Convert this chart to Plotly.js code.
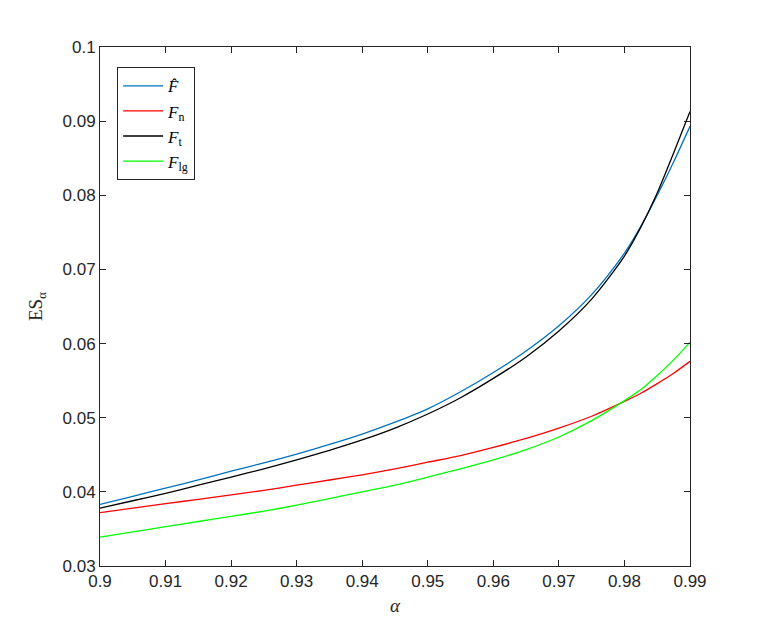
<!DOCTYPE html>
<html>
<head>
<meta charset="utf-8">
<script src="https://cdn.plot.ly/plotly-3.0.1.min.js"></script>
<style>
  body { margin: 0; background: #fff; }
  #plot { width: 763px; height: 635px; }
</style>
</head>
<body>
<div id="plot"></div>
<script>
// alpha grid and ES values
let alpha = [0.900, 0.905, 0.910, 0.915, 0.920, 0.925, 0.930, 0.935, 0.940, 0.945,
             0.950, 0.955, 0.960, 0.965, 0.970, 0.975, 0.980, 0.9825, 0.985, 0.9875, 0.990];
let esHat = [0.0383, 0.0394, 0.0405, 0.0416, 0.0428, 0.0439, 0.0451, 0.0464, 0.0478, 0.0494,
             0.0512, 0.0535, 0.0561, 0.0590, 0.0624, 0.0666, 0.0722, 0.0758, 0.0800, 0.0845, 0.0893];
let esT = [0.0378, 0.0388, 0.0398, 0.0409, 0.0420, 0.0431, 0.0443, 0.0456, 0.0470, 0.0486,
           0.0505, 0.0527, 0.0553, 0.0582, 0.0617, 0.0660, 0.0718, 0.0757, 0.0803, 0.0857, 0.0913];
let esN = [0.0372, 0.0378, 0.0384, 0.0390, 0.0396, 0.0402, 0.0409, 0.0416, 0.0423, 0.0431,
           0.0440, 0.0449, 0.0460, 0.0472, 0.0486, 0.0502, 0.0522, 0.0533, 0.0546, 0.0560, 0.0576];
let esLg = [0.0339, 0.0346, 0.0353, 0.0360, 0.0367, 0.0374, 0.0382, 0.0391, 0.0400, 0.0409,
            0.0420, 0.0431, 0.0443, 0.0457, 0.0474, 0.0496, 0.0523, 0.0538, 0.0557, 0.0578, 0.0602];

let xTicks = [0.9, 0.91, 0.92, 0.93, 0.94, 0.95, 0.96, 0.97, 0.98, 0.99];
let yTicks = [0.03, 0.04, 0.05, 0.06, 0.07, 0.08, 0.09, 0.1];

function trace(y, name, color) {
    return {
        x: alpha, y: y, name: name,
        type: 'scatter', mode: 'lines',
        line: {color: color, width: 1.3, shape: 'spline', smoothing: 0.8}
    };
}

let data = [
    trace(esHat, '<i>F̂</i>', '#0072BD'),
    trace(esN, '<i>F</i><sub>n</sub>', '#FF0000'),
    trace(esT, '<i>F</i><sub>t</sub>', '#000000'),
    trace(esLg, '<i>F</i><sub>lg</sub>', '#00FF00')
];

let axisCommon = {
    showgrid: false,
    zeroline: false,
    showline: true,
    linecolor: '#262626',
    linewidth: 1,
    mirror: 'ticks',
    ticks: 'inside',
    ticklen: 6,
    tickcolor: '#262626',
    tickfont: {family: 'Liberation Sans, Arial, sans-serif', size: 17, color: '#262626'}
};

let layout = {
    width: 763,
    height: 635,
    paper_bgcolor: '#fff',
    plot_bgcolor: '#fff',
    margin: {l: 100, r: 73, t: 47, b: 69},
    showlegend: true,
    legend: {
        x: 0.029, y: 0.961, xanchor: 'left', yanchor: 'top',
        bordercolor: '#262626', borderwidth: 1, bgcolor: '#fff',
        font: {family: 'Liberation Serif, Times New Roman, serif', size: 17, color: '#000'},
        itemwidth: 40,
        tracegroupgap: 0
    },
    xaxis: Object.assign({}, axisCommon, {
        range: [0.9, 0.99],
        tickvals: xTicks,
        ticktext: xTicks.map(v => String(v)),
        title: {text: '<i>α</i>', font: {family: 'Liberation Serif, serif', size: 19, color: '#262626'}, standoff: 8}
    }),
    yaxis: Object.assign({}, axisCommon, {
        range: [0.03, 0.1],
        tickvals: yTicks,
        ticktext: yTicks.map(v => String(v)),
        title: {text: 'ES<sub>α</sub>', font: {family: 'Liberation Serif, serif', size: 19, color: '#262626'}, standoff: 14}
    })
};

Plotly.newPlot('plot', data, layout, {displayModeBar: false, staticPlot: true});
</script>
</body>
</html>
